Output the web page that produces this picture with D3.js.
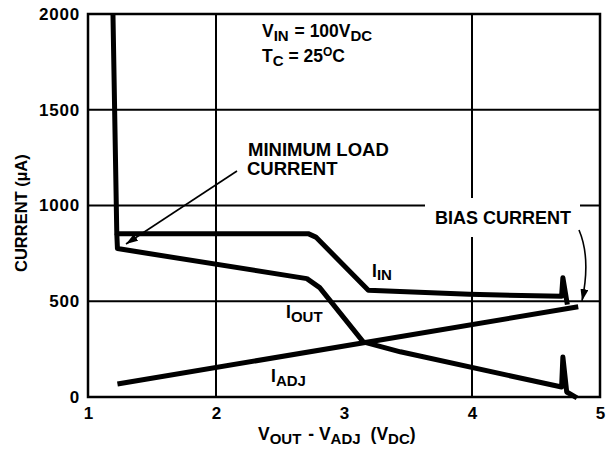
<!DOCTYPE html>
<html><head><meta charset="utf-8">
<script src="https://cdn.jsdelivr.net/npm/d3@7"></script>
<style>
body{margin:0;background:#fff;}
text{font-family:"Liberation Sans",Arial,sans-serif;font-weight:bold;fill:#000;}
</style></head>
<body><svg id="c" width="611" height="455"></svg>
<script>
const xTicks=[1,2,3,4,5];
const yTicks=[0,500,1000,1500,2000];
const xGrid=[2,4];
const yGrid=[500,1000,1500];
const vIn=[1.195,1.225,2.72,2.78,3.19,3.98,4.70,4.71,4.745];
const iIn=[2000,853,853,835,558,536,526,623,482];
const vOut=[1.225,1.23,2.71,2.81,3.15,3.44,4.70,4.71,4.74,4.82];
const iOut=[853,775,618,571,288,236,52,209,26,-5];
const vAdj=[1.23,4.83];
const iAdj=[68,471];

const svg=d3.select("#c");
const x=d3.scaleLinear().domain([1,5]).range([88,600]);
const y=d3.scaleLinear().domain([0,2000]).range([397,14]);

svg.append("g").selectAll("line").data(yGrid).join("line")
 .attr("x1",x(1)).attr("x2",x(5)).attr("y1",d=>y(d)).attr("y2",d=>y(d))
 .attr("stroke","#000").attr("stroke-width",2);
svg.append("g").selectAll("line").data(xGrid).join("line")
 .attr("x1",d=>x(d)).attr("x2",d=>x(d)).attr("y1",y(0)).attr("y2",y(2000))
 .attr("stroke","#000").attr("stroke-width",2);
svg.append("rect").attr("x",x(1)).attr("y",y(2000)).attr("width",x(5)-x(1)).attr("height",y(0)-y(2000))
 .attr("fill","none").attr("stroke","#000").attr("stroke-width",2.5);

const fs=17;
const xa=svg.append("g").attr("transform",`translate(0,${y(0)})`)
 .call(d3.axisBottom(x).tickValues(xTicks).tickFormat(d3.format("d")).tickSize(0).tickPadding(10));
xa.select(".domain").remove();
xa.selectAll("text").style("font-size",fs+"px").style("font-family","Liberation Sans, Arial").style("font-weight","bold");
const ya=svg.append("g").attr("transform",`translate(${x(1)},0)`)
 .call(d3.axisLeft(y).tickValues(yTicks).tickFormat(d3.format("d")).tickSize(0).tickPadding(8));
ya.select(".domain").remove();
ya.selectAll("text").style("font-size",fs+"px").style("font-family","Liberation Sans, Arial").style("font-weight","bold").style("letter-spacing","0.8px");

svg.append("rect").attr("x",425).attr("y",198).attr("width",155).attr("height",39).attr("fill","#fff");

const line=d3.line().x(d=>x(d[0])).y(d=>y(d[1]));
const curves=[d3.zip(vIn,iIn),d3.zip(vOut,iOut),d3.zip(vAdj,iAdj)];
svg.append("g").selectAll("path").data(curves).join("path")
 .attr("d",line).attr("fill","none").attr("stroke","#000").attr("stroke-width",5)
 .attr("stroke-linejoin","round");

svg.append("defs").append("marker").attr("id","ah").attr("viewBox","0 0 12 8")
 .attr("refX",12).attr("refY",4).attr("markerWidth",12).attr("markerHeight",8)
 .attr("markerUnits","userSpaceOnUse").attr("orient","auto")
 .append("path").attr("d","M0,0L12,4L0,8Z").attr("fill","#000");
svg.append("line").attr("x1",237).attr("y1",171).attr("x2",126).attr("y2",244)
 .attr("stroke","#000").attr("stroke-width",1.6).attr("marker-end","url(#ah)");
svg.append("path").attr("d","M579,230 Q591,258 582,301").attr("fill","none")
 .attr("stroke","#000").attr("stroke-width",1.6).attr("marker-end","url(#ah)");

function label(xp,yp,parts,size){
  const t=svg.append("text").attr("x",xp).attr("y",yp).style("font-size",size+"px");
  parts.forEach(p=>{
    const s=t.append("tspan").text(p[0]);
    if(p[1]) s.attr("dy",p[1]);
    if(p[2]) s.style("font-size",p[2]+"px");
    if(p[3]) s.attr("dx",p[3]);
  });
  return t;
}
label(262,37,[["V"],["IN",4,15],[" = 100V",-4,null,1],["DC",4,15]],17.5);
label(262,62,[["T"],["C",4,15],[" = 25",-4],["O",-6,12],["C",6]],17.5);
label(248,156,[["MINIMUM LOAD"]],18.5);
label(247,175,[["CURRENT"]],18.5);
label(435,224,[["BIAS CURRENT"]],18);
label(372,277,[["I"],["IN",3,15]],17.5);
label(286,318,[["I"],["OUT",4,15]],17.5);
label(271,382,[["I"],["ADJ",4,15]],17.5);
label(258,440,[["V"],["OUT",4,15],[" - V",-4,null,2],["ADJ",4,15],["(V",-4,null,10],["DC",4,15],[")",-4]],17.5);
svg.append("text").attr("transform","translate(27,272) rotate(-90)").style("font-size","16.5px")
 .text("CURRENT (µA)");
</script></body></html>
